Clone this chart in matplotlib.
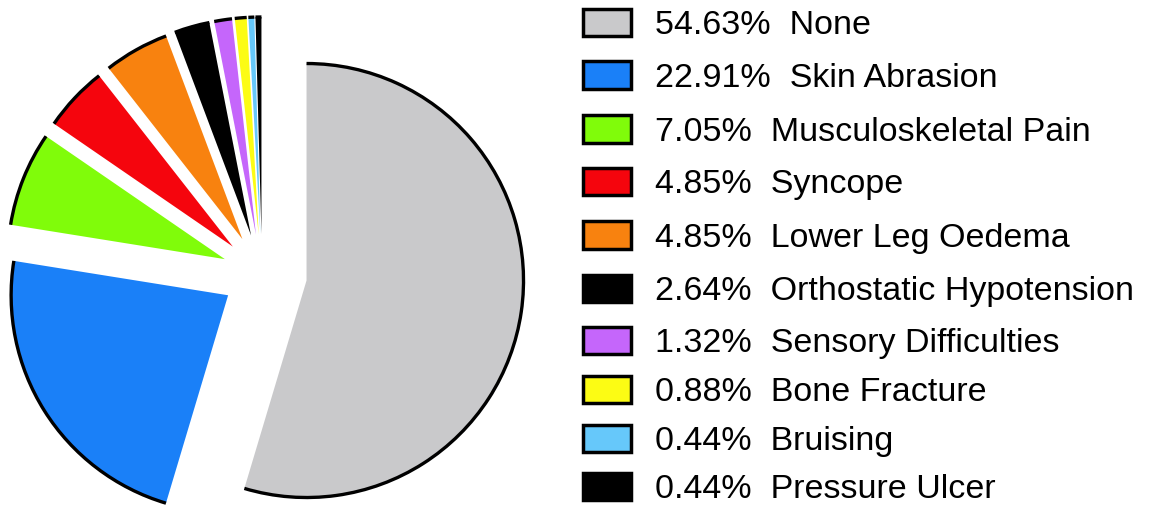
import matplotlib
matplotlib.use("Agg")
import matplotlib.pyplot as plt
from matplotlib.patches import Arc, Rectangle

plt.rcParams['font.family'] = ['Liberation Sans', 'DejaVu Sans']

labels = ["None", "Skin Abrasion", "Musculoskeletal Pain", "Syncope",
          "Lower Leg Oedema", "Orthostatic Hypotension", "Sensory Difficulties",
          "Bone Fracture", "Bruising", "Pressure Ulcer"]
percent = [54.63, 22.91, 7.05, 4.85, 4.85, 2.64, 1.32, 0.88, 0.44, 0.44]
colors = ["#c9c9cb", "#1a80f8", "#80fc0a", "#f5050d", "#f8820f",
          "#000000", "#c566fb", "#fcfc14", "#66c8fa", "#000000"]

W, H = 1153, 507
R_PX = 217          # pie radius in pixels
CX, CY = 262, 274   # pie centre, pixels from top-left

fig = plt.figure(figsize=(W / 100, H / 100), dpi=100)
ax = fig.add_axes([0, 0, 1, 1])

explode = [45 / R_PX] + [40 / R_PX] * (len(percent) - 1)
wedges, _ = ax.pie(percent, colors=colors, startangle=90, counterclock=False,
                   explode=explode, radius=1, wedgeprops=dict(linewidth=0))

# black rim only on the outer arc of every slice
for w in wedges:
    ax.add_patch(Arc(w.center, 2 * w.r, 2 * w.r, theta1=w.theta1, theta2=w.theta2,
                     color="black", lw=2.4))

ax.set_aspect("auto")
ax.set_xlim(-CX / R_PX, (W - CX) / R_PX)
ax.set_ylim(-(H - CY) / R_PX, CY / R_PX)
ax.axis("off")

# legend rows, pixel positions
row_y = [22.5, 75, 129, 181.5, 235, 288, 340, 389, 438, 486.5]
box_x, box_w, box_h = 583, 48, 27
for lab, p, c, y in zip(labels, percent, colors, row_y):
    fig.patches.append(Rectangle((box_x / W, 1 - (y + box_h / 2) / H),
                                 box_w / W, box_h / H, transform=fig.transFigure,
                                 facecolor=c, edgecolor="black", lw=2.5))
    fig.text(655 / W, 1 - y / H, f"{p:.2f}%  {lab}", fontsize=24.5,
             va="center_baseline", ha="left", color="black")

fig.savefig("out.png", dpi=100)
